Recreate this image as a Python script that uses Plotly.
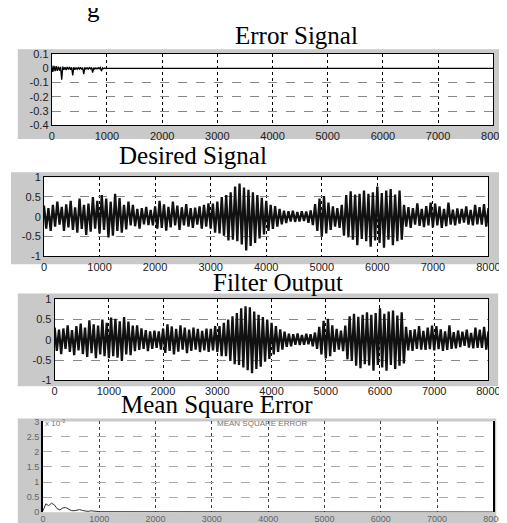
import plotly.graph_objects as go

# ---------------- data ----------------
x_ticks = [0, 1000, 2000, 3000, 4000, 5000, 6000, 7000, 8000]

error_step = 20
error_vals = [0.02, -0.025, 0.018, -0.02, 0.015, -0.018, 0.012, -0.015, 0.01, -0.08,
              0.012, -0.01, 0.008, -0.012, 0.01, -0.008, 0.009, -0.01, 0.007, -0.05,
              0.008, -0.009, 0.006, -0.007, 0.005, -0.006, 0.007, -0.008, 0.005, -0.04,
              0.006, -0.005, 0.004, -0.006, 0.005, -0.004, 0.006, -0.03, 0.004, -0.005,
              0.003, -0.004, 0.004, -0.003, 0.005, -0.02, 0.003, -0.003, 0.002, -0.002,
              0.0]
error_tail = [0.0]          # value held until sample 8000
error_tail_idx = [8000]

signal_step = 40
desired_vals = [
    0.28, -0.30, 0.22, -0.36, 0.30, -0.25, 0.38, -0.20, 0.25, -0.36, 0.31, -0.27, 0.40, -0.33, 0.24, -0.40, 0.46, -0.31, 0.30, -0.46, 0.33, -0.38, 0.50, -0.30, 0.40,
    -0.42, 0.55, -0.33, 0.46, -0.52, 0.38, -0.48, 0.58, -0.36, 0.47, -0.40, 0.30, -0.32, 0.38, -0.22, 0.30, -0.24, 0.20, -0.30, 0.22, -0.19, 0.25, -0.21, 0.17, -0.22,
    0.26, -0.30, 0.40, -0.28, 0.31, -0.35, 0.25, -0.27, 0.38, -0.22, 0.28, -0.33, 0.24, -0.22, 0.32, -0.25, 0.22, -0.28, 0.23, -0.20, 0.26, -0.30, 0.30, -0.25, 0.34,
    -0.30, 0.33, -0.40, 0.38, -0.42, 0.50, -0.48, 0.55, -0.60, 0.62, -0.58, 0.76, -0.62, 0.84, -0.70, 0.74, -0.85, 0.68, -0.74, 0.62, -0.66, 0.55, -0.55, 0.48, -0.45,
    0.40, -0.36, 0.30, -0.31, 0.27, -0.25, 0.20, -0.19, 0.15, -0.16, 0.14, -0.12, 0.15, -0.13, 0.12, -0.12, 0.14, -0.11, 0.13, -0.15, 0.16, -0.21, 0.32, -0.36, 0.46,
    -0.50, 0.52, -0.42, 0.36, -0.33, 0.26, -0.25, 0.22, -0.28, 0.30, -0.48, 0.55, -0.52, 0.64, -0.58, 0.56, -0.72, 0.58, -0.56, 0.66, -0.62, 0.58, -0.76, 0.62, -0.60,
    0.76, -0.66, 0.60, -0.78, 0.66, -0.58, 0.70, -0.72, 0.56, -0.62, 0.66, -0.58, 0.30, -0.25, 0.24, -0.28, 0.22, -0.20, 0.34, -0.23, 0.20, -0.26, 0.27, -0.22, 0.36,
    -0.27, 0.33, -0.22, 0.26, -0.28, 0.20, -0.24, 0.36, -0.20, 0.18, -0.22, 0.21, -0.17, 0.20, -0.15, 0.26, -0.20, 0.17, -0.22, 0.30, -0.19, 0.24, -0.20, 0.32, -0.25, 0.22,
]
filter_vals = [
    0.30, -0.27, 0.25, -0.35, 0.28, -0.22, 0.36, -0.30, 0.24, -0.38, 0.34, -0.26, 0.40, -0.35, 0.30, -0.42, 0.48, -0.33, 0.38, -0.45, 0.35, -0.36, 0.50, -0.40, 0.42,
    -0.45, 0.55, -0.40, 0.52, -0.44, 0.46, -0.52, 0.56, -0.36, 0.45, -0.38, 0.35, -0.28, 0.36, -0.25, 0.28, -0.22, 0.24, -0.28, 0.21, -0.22, 0.23, -0.20, 0.21, -0.24,
    0.28, -0.32, 0.38, -0.27, 0.33, -0.36, 0.27, -0.29, 0.36, -0.24, 0.30, -0.33, 0.25, -0.27, 0.30, -0.24, 0.27, -0.30, 0.22, -0.26, 0.28, -0.30, 0.27, -0.26, 0.34,
    -0.30, 0.34, -0.40, 0.42, -0.40, 0.50, -0.52, 0.58, -0.60, 0.66, -0.62, 0.78, -0.68, 0.83, -0.75, 0.80, -0.82, 0.70, -0.72, 0.62, -0.66, 0.56, -0.54, 0.50, -0.47,
    0.42, -0.36, 0.34, -0.30, 0.26, -0.24, 0.20, -0.17, 0.15, -0.16, 0.14, -0.12, 0.16, -0.13, 0.12, -0.12, 0.15, -0.11, 0.14, -0.16, 0.18, -0.22, 0.32, -0.36, 0.47,
    -0.46, 0.52, -0.40, 0.36, -0.30, 0.27, -0.24, 0.23, -0.28, 0.35, -0.48, 0.58, -0.52, 0.64, -0.64, 0.57, -0.70, 0.62, -0.60, 0.68, -0.63, 0.62, -0.76, 0.66, -0.62,
    0.78, -0.68, 0.64, -0.76, 0.70, -0.62, 0.72, -0.72, 0.60, -0.64, 0.68, -0.58, 0.32, -0.26, 0.24, -0.27, 0.26, -0.22, 0.34, -0.24, 0.22, -0.25, 0.30, -0.23, 0.35,
    -0.26, 0.34, -0.23, 0.26, -0.27, 0.21, -0.25, 0.36, -0.22, 0.19, -0.21, 0.23, -0.18, 0.20, -0.15, 0.25, -0.19, 0.17, -0.21, 0.30, -0.20, 0.25, -0.20, 0.32, -0.24, 0.21,
]

mse_step = 50
mse_vals = [0.05e-3, 0.28e-3, 0.22e-3, 0.30e-3, 0.25e-3, 0.12e-3, 0.08e-3, 0.14e-3, 0.16e-3, 0.10e-3,
            0.06e-3, 0.05e-3, 0.08e-3, 0.09e-3, 0.06e-3, 0.04e-3, 0.03e-3, 0.05e-3, 0.04e-3, 0.02e-3,
            0.02e-3]
mse_tail = [0.01e-3]
mse_tail_idx = [8000]

mse_ticks = [0, 0.5e-3, 1e-3, 1.5e-3, 2e-3, 2.5e-3, 3e-3]
mse_ticktext = ["0", "0.5", "1", "1.5", "2", "2.5", "3"]

titles = ["Error Signal", "Desired Signal", "Filter Output", "Mean Square Error"]

# ---------------- layout helpers ----------------
W, H = 507, 523


def xd(l, r):
    return [l / W, r / W]


def yd(t, b):
    return [1 - b / H, 1 - t / H]


err_x = [i * error_step for i in range(len(error_vals))] + error_tail_idx
err_y = error_vals + error_tail
sig_x = [i * signal_step for i in range(len(desired_vals))]
mse_x = [i * mse_step for i in range(len(mse_vals))] + mse_tail_idx
mse_y = mse_vals + mse_tail

fig = go.Figure()
fig.add_trace(go.Scatter(x=err_x, y=err_y, mode="lines", line=dict(color="black", width=1.3),
                         xaxis="x", yaxis="y", showlegend=False))
fig.add_trace(go.Scatter(x=sig_x, y=desired_vals, mode="lines", line=dict(color="#111", width=2.3),
                         xaxis="x2", yaxis="y2", showlegend=False))
fig.add_trace(go.Scatter(x=sig_x, y=filter_vals, mode="lines", line=dict(color="#111", width=2.3),
                         xaxis="x3", yaxis="y3", showlegend=False))
fig.add_trace(go.Scatter(x=mse_x, y=mse_y, mode="lines", line=dict(color="#333", width=1),
                         xaxis="x4", yaxis="y4", showlegend=False))

tickfont = dict(family="Liberation Sans, Arial", size=11, color="#222")
tickfont4 = dict(family="Liberation Sans, Arial", size=9, color="#666")

panels = [
    # (x-left, x-right, y-top, y-bottom)
    (42, 497, 41, 114),
    (34, 492, 167, 248),
    (45, 492, 292, 375),
    (33, 497, 417, 510),
]
yranges = [[-0.4, 0.1], [-1, 1], [-1, 1], [0, 3e-3]]
ytickvals = [[-0.4, -0.3, -0.2, -0.1, 0, 0.1], [-1, -0.5, 0, 0.5, 1], [-1, -0.5, 0, 0.5, 1], mse_ticks]
yticktext = [["-0.4", "-0.3", "-0.2", "-0.1", "0", "0.1"], ["-1", "-0.5", "0", "0.5", "1"],
             ["-1", "-0.5", "0", "0.5", "1"], mse_ticktext]

layout = dict(width=W, height=H, margin=dict(l=0, r=0, t=0, b=0),
              paper_bgcolor="white", plot_bgcolor="white", showlegend=False)

for i, (l, r, t, b) in enumerate(panels):
    sx = "" if i == 0 else str(i + 1)
    last = i == 3
    layout["xaxis" + sx] = dict(
        domain=xd(l, r), anchor="y" + sx, range=[0, 8000], tickvals=x_ticks,
        ticktext=[str(v) for v in x_ticks], showgrid=True, gridcolor="#000" if not last else "#444",
        griddash="dot", gridwidth=1, showline=not last, linecolor="black", linewidth=1, mirror=True,
        ticks="", tickfont=tickfont if not last else tickfont4, zeroline=False,
    )
    layout["yaxis" + sx] = dict(
        domain=yd(t, b), anchor="x" + sx, range=yranges[i], tickvals=ytickvals[i],
        ticktext=yticktext[i], showgrid=True, gridcolor="#888" if not last else "#aaa",
        griddash="dash", gridwidth=1, showline=True, linecolor="black",
        linewidth=1 if not last else 2, mirror=True, ticks="",
        tickfont=tickfont if not last else tickfont4, zeroline=False,
    )

# gray panel backgrounds, then white plot areas on top of them
bands = [(7, 503, 36, 128), (0, 507, 162, 256), (7, 502, 286, 381), (7, 500, 414, 523)]
shapes = []
for (l, r, t, b) in bands:
    shapes.append(dict(type="rect", xref="paper", yref="paper", x0=l / W, x1=r / W,
                       y0=1 - b / H, y1=1 - t / H, fillcolor="#c9c9c9", line=dict(width=0),
                       layer="below"))
for i in range(4):
    sx = "" if i == 0 else str(i + 1)
    shapes.append(dict(type="rect", xref="x" + sx + " domain", yref="y" + sx + " domain",
                       x0=0, x1=1, y0=0, y1=1, fillcolor="white", line=dict(width=0),
                       layer="below"))
layout["shapes"] = shapes

title_pos = [(294, 22), (188, 145), (275, 275), (212, 400)]
ann = []
for txt, (cx, cy) in zip(titles, title_pos):
    ann.append(dict(text=txt, x=cx / W, y=1 - cy / H, xref="paper", yref="paper",
                    xanchor="center", yanchor="middle", showarrow=False,
                    font=dict(family="Liberation Serif, Times New Roman", size=25, color="black")))
ann.append(dict(text="g", x=85 / W, y=1 + 6 / H, xref="paper", yref="paper", xanchor="center",
                yanchor="middle", showarrow=False,
                font=dict(family="Liberation Serif", size=25, color="black")))
ann.append(dict(text="MEAN SQUARE ERROR", x=259 / W, y=1 - 419 / H, xref="paper", yref="paper",
                xanchor="center", yanchor="middle", showarrow=False,
                font=dict(family="Liberation Sans", size=8, color="#777")))
ann.append(dict(text="x 10<sup>-3</sup>", x=33 / W, y=1 - 419 / H, xref="paper", yref="paper",
                xanchor="left", yanchor="middle", showarrow=False,
                font=dict(family="Liberation Sans", size=8, color="#777")))
layout["annotations"] = ann

fig.update_layout(**layout)
fig.write_html("out.html")
